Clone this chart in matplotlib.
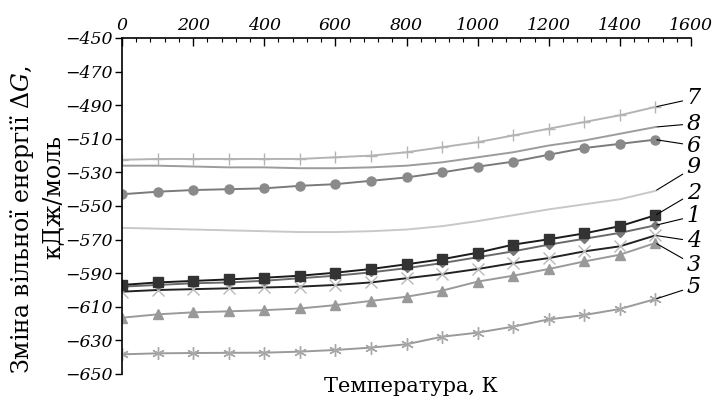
import matplotlib

matplotlib.use("Agg")
import matplotlib.pyplot as plt
from matplotlib.ticker import MultipleLocator

plt.rcParams["mathtext.fontset"] = "dejavuserif"

# Temperature, K
temps = [0, 100, 200, 300, 400, 500, 600, 700, 800, 900, 1000, 1100, 1200, 1300, 1400, 1500]

# Gibbs free energy change, kJ/mol
g7 = [-522.5, -522, -522, -522, -522, -522, -521, -520, -518, -515, -512, -508, -504, -500, -496, -491]
g8 = [-526, -526, -526.5, -527, -527, -527.5, -527.5, -527, -526, -524, -521, -518, -514, -511, -507, -503]
g6 = [-543, -541.5, -540.5, -540, -539.5, -538, -537, -535, -533, -530, -526.6, -523.6, -519.5, -515.5, -513, -510.5]
g9 = [-563, -563.5, -564, -564.5, -565, -565.5, -565.5, -565, -564, -562, -559, -555.5, -552, -549, -546, -541]
g2 = [-597, -595.5, -594.6, -593.7, -592.7, -591.5, -589.7, -587.5, -584.7, -581.7, -577.8, -573, -569.8, -566.3, -562, -555.5]
g1 = [-598, -597, -596, -595.5, -594.5, -593, -591.5, -589.5, -587, -584, -580.5, -577, -573, -569.5, -566, -561.5]
g4 = [-601, -600, -599.5, -599, -598.5, -598, -597, -595.5, -593, -590.5, -587.5, -584, -581, -577, -574, -567.5]
g3 = [-616.5, -614.5, -613.3, -612.7, -612, -611, -609, -606.5, -604, -600.4, -595, -591.5, -587.5, -583, -579, -572]
g5 = [-638.3, -637.7, -637.5, -637.4, -637.3, -636.7, -635.7, -634.3, -632.3, -627.8, -625.4, -621.8, -617.5, -614.9, -611.3, -605.4]

curve_labels = ["7", "8", "6", "9", "2", "1", "4", "3", "5"]
label_y = [-486, -501, -514, -527, -542, -556, -571, -585, -598]

x_ticks = [0, 200, 400, 600, 800, 1000, 1200, 1400, 1600]
y_ticks = [-450, -470, -490, -510, -530, -550, -570, -590, -610, -630, -650]

SERIF = "DejaVu Serif"

fig = plt.figure(figsize=(7.19, 4.01), dpi=100)
fig.patch.set_facecolor("white")
ax = fig.add_axes([122 / 719, 1 - 374 / 401, (691 - 122) / 719, (374 - 38) / 401])

# (values, line colour, marker, marker colour, marker size)
styles = [
    (g8, "#9c9c9c", None, None, 0),
    (g9, "#c8c8c8", None, None, 0),
    (g7, "#b4b4b4", "+", "#b4b4b4", 8),
    (g6, "#7a7a7a", "o", "#8a8a8a", 6.5),
    (g5, "#9a9a9a", (6, 2, 0), "#a8a8a8", 9),
    (g3, "#9a9a9a", "^", "#999999", 6.5),
    (g4, "#222222", "x", "#b8b8b8", 8),
    (g1, "#6a6a6a", "D", "#777777", 4.5),
    (g2, "#1a1a1a", "s", "#333333", 6.5),
]
for vals, lc, mk, mc, ms in styles:
    ax.plot(temps, vals, color=lc, linewidth=1.4, marker=mk, markersize=ms,
            markerfacecolor=mc, markeredgecolor=mc, markeredgewidth=1.0)

# leader lines with curve numbers
series_by_label = {"7": g7, "8": g8, "6": g6, "9": g9, "2": g2, "1": g1, "4": g4, "3": g3, "5": g5}
for lab, ly in zip(curve_labels, label_y):
    ax.annotate(lab, xy=(temps[-1], series_by_label[lab][-1]), xytext=(1588, ly),
                textcoords="data", ha="left", va="center", fontsize=16,
                family=SERIF, style="italic", annotation_clip=False,
                arrowprops=dict(arrowstyle="-", color="black", lw=0.8,
                                shrinkA=1, shrinkB=1))

ax.set_xlim(0, 1600)
ax.set_ylim(-650, -450)
ax.xaxis.tick_top()
ax.set_xticks(x_ticks)
ax.xaxis.set_minor_locator(MultipleLocator(40))
ax.set_yticks(y_ticks)
ax.set_xticklabels([str(v) for v in x_ticks], family=SERIF, style="italic", fontsize=12.5)
ax.set_yticklabels([f"\u2212{abs(v)}" for v in y_ticks], family=SERIF, style="italic", fontsize=12.5)

ax.tick_params(axis="x", which="major", direction="in", length=6, width=1.0, pad=3)
ax.tick_params(axis="x", which="minor", direction="in", length=3, width=0.8)
ax.tick_params(axis="y", which="major", direction="out", length=5, width=1.0, pad=2)

for side in ("bottom", "right"):
    ax.spines[side].set_visible(False)
for side in ("top", "left"):
    ax.spines[side].set_linewidth(1.2)

fig.text(411 / 719, 1 - 386 / 401, "Температура, К", ha="center", va="center",
         family=SERIF, fontsize=15)
fig.text(22 / 719, 1 - 220 / 401, "Зміна вільної енергії Δ$G$,", ha="center", va="center",
         rotation=90, family=SERIF, fontsize=17)
fig.text(53 / 719, 1 - 197 / 401, "кДж/моль", ha="center", va="center",
         rotation=90, family=SERIF, fontsize=17)

fig.savefig("out.png", dpi=100, facecolor="white")
